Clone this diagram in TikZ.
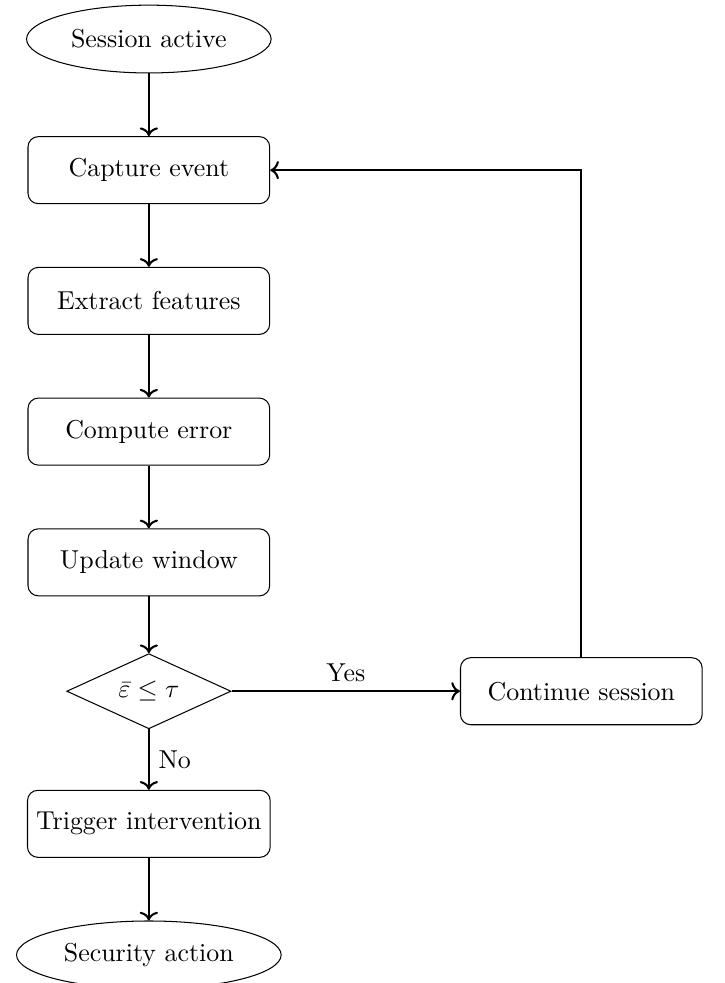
\documentclass[tikz,border=0pt]{standalone}
\usepackage{amsmath,amssymb}
\usepackage{tikz}
\usetikzlibrary{arrows.meta,positioning,shapes.geometric}

\begin{document}
\begin{tikzpicture}[
  node distance=8.5mm and 31mm,
  startstop/.style={draw,ellipse,minimum height=9.2mm,align=center},
  process/.style={draw,rounded corners,minimum width=32.8mm,minimum height=9.1mm,align=center},
  decision/.style={draw,diamond,aspect=2.2,minimum width=22.3mm,minimum height=10.2mm,inner sep=1pt,align=center},
  arrow/.style={->,thick}
]
  \useasboundingbox (-2.02,0.53) rectangle (7.81,-12.81);

  \node[startstop] (start) at (0,0) {Session active};
  \node[process,below=of start] (capture) {Capture event};
  \node[process,below=of capture] (extract) {Extract features};
  \node[process,below=of extract] (error) {Compute error};
  \node[process,below=of error] (window) {Update window};
  \node[decision,below=7.7mm of window] (check) {$\bar{\varepsilon}\le\tau$};
  \node[process,right=of check] (cont) {Continue session};
  \node[process,below=8.2mm of check] (trigger) {Trigger intervention};
  \node[startstop,below=of trigger] (action) {Security action};

  \draw[arrow] (start)--(capture);
  \draw[arrow] (capture)--(extract);
  \draw[arrow] (extract)--(error);
  \draw[arrow] (error)--(window);
  \draw[arrow] (window)--(check);
  \draw[arrow] (check)--node[above]{Yes}(cont);
  \draw[arrow] (check)--node[right]{No}(trigger);
  \draw[arrow] (trigger)--(action);
  \draw[arrow] (cont.north) |- (capture.east);
\end{tikzpicture}
\end{document}
